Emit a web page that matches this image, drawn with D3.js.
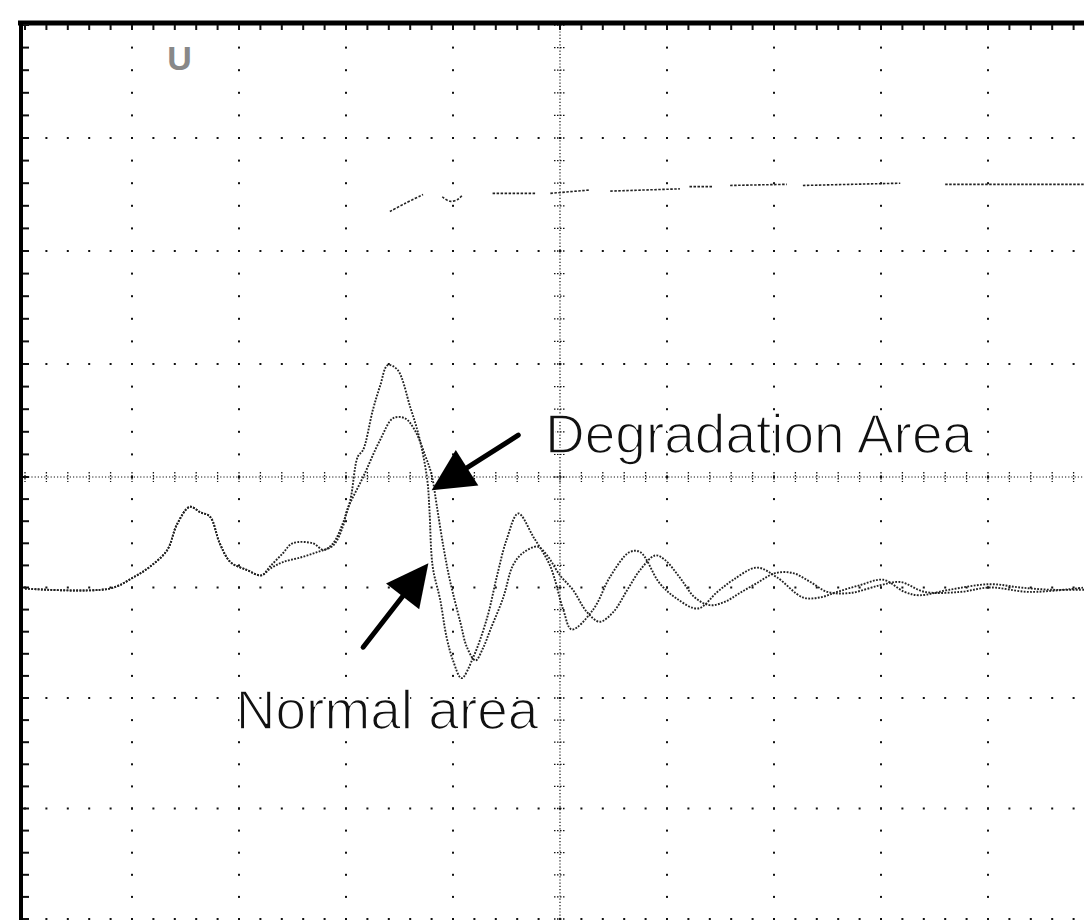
<html>
<head>
<meta charset="utf-8">
<script src="https://cdnjs.cloudflare.com/ajax/libs/d3/7.8.5/d3.min.js"></script>
<style>
  body { margin: 0; background: #fff; }
  svg { display: block; }
</style>
</head>
<body>
<div id="chart"></div>
<script>
// time axis and amplitude are in screen divisions (10 x 8 graticule)
var normalT = [-5.0, -4.21, -3.99, -3.83, -3.67, -3.58, -3.46, -3.36, -3.27, -3.18, -3.08, -2.93, -2.79, -2.71, -2.59, -2.50, -2.31, -2.21, -2.12, -2.03, -1.96,
  -1.89, -1.84, -1.75, -1.68, -1.61, -1.52, -1.40, -1.31, -1.24, -1.22, -1.19, -1.12, -1.06, -1.00, -0.92, -0.81, -0.68, -0.59, -0.50, -0.39,
  -0.25, -0.09, 0.03, 0.11, 0.31, 0.47, 0.65, 0.75, 0.93, 1.09, 1.29, 1.47, 1.62, 1.84, 2.03, 2.27, 2.43, 2.59, 2.80, 3.02, 3.22, 3.36, 3.64, 4.02, 4.30, 4.58, 4.90];
var normalV = [-1.01, -1.01, -0.91, -0.81, -0.66, -0.43, -0.27, -0.32, -0.36, -0.60, -0.77, -0.84, -0.89, -0.81, -0.69, -0.60, -0.60, -0.66, -0.60, -0.42, -0.21,
  0.18, 0.24, 0.59, 0.81, 0.99, 0.95, 0.62, 0.33, -0.03, -0.30, -0.81, -1.11, -1.45, -1.66, -1.82, -1.63, -1.27, -0.90, -0.57, -0.33,
  -0.54, -0.81, -1.20, -1.38, -1.20, -0.90, -0.68, -0.68, -0.96, -1.10, -1.19, -1.04, -0.93, -0.82, -0.91, -1.09, -1.09, -1.04, -0.98, -0.93, -1.04, -1.07, -1.02, -0.97, -1.00, -1.02, -1.02];

var degradedT = [-5.0, -4.21, -3.99, -3.83, -3.67, -3.58, -3.46, -3.36, -3.27, -3.18, -3.08, -2.93, -2.79, -2.71, -2.59, -2.43, -2.27, -2.12, -2.03, -1.99,
  -1.84, -1.68, -1.56, -1.45, -1.36, -1.26, -1.20, -1.15, -1.09, -1.03, -0.93, -0.87, -0.79, -0.72, -0.65, -0.53, -0.44, -0.35, -0.21, -0.12,
  0.00, 0.12, 0.25, 0.37, 0.50, 0.63, 0.75, 0.89, 0.98, 1.12, 1.26, 1.40, 1.54, 1.68, 1.84, 2.01, 2.18, 2.34, 2.50, 2.71, 2.99, 3.18, 3.41, 3.74, 4.02, 4.39, 4.90];
var degradedV = [-1.01, -1.01, -0.91, -0.81, -0.66, -0.43, -0.27, -0.32, -0.36, -0.60, -0.77, -0.84, -0.89, -0.83, -0.77, -0.73, -0.68, -0.62, -0.45, -0.30,
  0.00, 0.33, 0.52, 0.52, 0.42, 0.19, 0.02, -0.27, -0.63, -0.93, -1.32, -1.54, -1.66, -1.55, -1.38, -1.09, -0.80, -0.69, -0.63, -0.71,
  -0.89, -1.02, -1.22, -1.31, -1.22, -1.02, -0.84, -0.71, -0.75, -0.91, -1.09, -1.16, -1.13, -1.05, -0.96, -0.87, -0.87, -0.95, -1.04, -1.05, -0.98, -0.95, -1.04, -1.04, -1.00, -1.04, -1.00];

// second channel, faint and broken (null = gap)
var upperT = [-1.59, -1.45, -1.28, null, -1.10, -1.03, -0.95, -0.91, null, -0.63, -0.23, null, -0.09, 0.28, null, 0.47, 1.12, null,
  1.21, 1.43, null, 1.59, 2.12, null, 2.27, 3.18, null, 3.60, 4.90];
var upperV = [2.35, 2.42, 2.50, null, 2.48, 2.44, 2.46, 2.50, null, 2.51, 2.51, null, 2.51, 2.54, null, 2.53, 2.55, null,
  2.57, 2.57, null, 2.58, 2.59, null, 2.58, 2.60, null, 2.59, 2.59];

var labels = ["Degradation Area", "Normal area"];
var channelLabel = "U";

var W = 1084, H = 920;
var svg = d3.select("#chart").append("svg").attr("width", W).attr("height", H);
svg.append("rect").attr("width", W).attr("height", H).attr("fill", "#fff");

var x = d3.scaleLinear().domain([-5, 5]).range([25, 1095]);
// the scanned screen is a little stretched in the upper half
var y = d3.scaleLinear().domain([-4, 0, 4]).range([919, 477, 25]);

var minorX = d3.range(-25, 26).map(function (d) { return d / 5; });
var minorY = d3.range(-20, 21).map(function (d) { return d / 5; });

var grid = svg.append("g");
// dotted major lines
[-4, -3, -2, -1, 1, 2, 3, 4].forEach(function (t) {
  grid.selectAll(null).data(minorY).enter().append("rect")
    .attr("x", x(t) - 1).attr("y", function (v) { return y(v) - 1; })
    .attr("width", 2).attr("height", 2).attr("fill", "#111");
});
[-4, -3, -2, -1, 1, 2, 3].forEach(function (v) {
  grid.selectAll(null).data(minorX).enter().append("rect")
    .attr("x", function (t) { return x(t) - 1; }).attr("y", y(v) - 1)
    .attr("width", 2).attr("height", 2).attr("fill", "#111");
});

// centre axes: fine dots plus tick marks
grid.append("line").attr("x1", x(-5)).attr("x2", x(5)).attr("y1", y(0)).attr("y2", y(0))
  .attr("stroke", "#111").attr("stroke-width", 1.2).attr("stroke-dasharray", "1.2,2");
grid.append("line").attr("x1", x(0)).attr("x2", x(0)).attr("y1", y(4)).attr("y2", y(-4))
  .attr("stroke", "#111").attr("stroke-width", 1.2).attr("stroke-dasharray", "1.2,2");
grid.selectAll(null).data(minorX).enter().append("line")
  .attr("x1", function (t) { return x(t); }).attr("x2", function (t) { return x(t); })
  .attr("y1", y(0) - 5).attr("y2", y(0) + 5)
  .attr("stroke", "#111").attr("stroke-width", 1.3).attr("stroke-dasharray", "1.5,1.5");
grid.selectAll(null).data(minorY).enter().append("line")
  .attr("x1", x(0) - 6).attr("x2", x(0) + 6)
  .attr("y1", function (v) { return y(v); }).attr("y2", function (v) { return y(v); })
  .attr("stroke", "#111").attr("stroke-width", 1.3).attr("stroke-dasharray", "1.5,1.5");

// screen frame (top and left edge) with ticks
grid.append("line").attr("x1", x(-5) - 7).attr("x2", W).attr("y1", y(4) - 2).attr("y2", y(4) - 2)
  .attr("stroke", "#000").attr("stroke-width", 5);
grid.append("line").attr("x1", x(-5) - 4).attr("x2", x(-5) - 4).attr("y1", y(4) - 4).attr("y2", H)
  .attr("stroke", "#000").attr("stroke-width", 4);
grid.selectAll(null).data(minorX).enter().append("line")
  .attr("x1", function (t) { return x(t); }).attr("x2", function (t) { return x(t); })
  .attr("y1", y(4)).attr("y2", y(4) + 5)
  .attr("stroke", "#111").attr("stroke-width", 2);
grid.selectAll(null).data(minorY).enter().append("line")
  .attr("x1", x(-5) - 2).attr("x2", x(-5) + 4)
  .attr("y1", function (v) { return y(v); }).attr("y2", function (v) { return y(v); })
  .attr("stroke", "#111").attr("stroke-width", 2);

// traces
var line = d3.line()
  .defined(function (d) { return d[0] !== null; })
  .x(function (d) { return x(d[0]); })
  .y(function (d) { return y(d[1]); })
  .curve(d3.curveCatmullRom.alpha(0.5));

function zip(a, b) { return a.map(function (d, i) { return [d, b[i]]; }); }

svg.append("path").datum(zip(upperT, upperV)).attr("d", line)
  .attr("fill", "none").attr("stroke", "#222").attr("stroke-width", 1.6).attr("stroke-dasharray", "2.5,1.5");
svg.append("path").datum(zip(normalT, normalV)).attr("d", line)
  .attr("fill", "none").attr("stroke", "#222").attr("stroke-width", 1.9).attr("stroke-dasharray", "1.8,1.4");
svg.append("path").datum(zip(degradedT, degradedV)).attr("d", line)
  .attr("fill", "none").attr("stroke", "#222").attr("stroke-width", 1.9).attr("stroke-dasharray", "1.8,1.4");

// channel marker
svg.append("text").attr("x", x(-3.67)).attr("y", y(3.6))
  .attr("font-family", "Liberation Sans, Arial, sans-serif").attr("font-size", 34).attr("font-weight", "bold")
  .attr("fill", "#888").text(channelLabel);

// annotations: arrows (tail -> tip in divisions) and labels
var arrows = [
  { tail: [-0.39, 0.37], tip: [-1.20, -0.12] },
  { tail: [-1.84, -1.54], tip: [-1.23, -0.78] }
];
arrows.forEach(function (a) {
  var x0 = x(a.tail[0]), y0 = y(a.tail[1]), x1 = x(a.tip[0]), y1 = y(a.tip[1]);
  var dx = x1 - x0, dy = y1 - y0, len = Math.sqrt(dx * dx + dy * dy);
  var ux = dx / len, uy = dy / len, L = 42, hw = 21;
  var bx = x1 - ux * L, by = y1 - uy * L;
  svg.append("line").attr("x1", x0).attr("y1", y0).attr("x2", bx + ux * 4).attr("y2", by + uy * 4)
    .attr("stroke", "#000").attr("stroke-width", 5).attr("stroke-linecap", "round");
  svg.append("path")
    .attr("d", "M" + x1 + "," + y1 + "L" + (bx - uy * hw) + "," + (by + ux * hw) + "L" + (bx + uy * hw) + "," + (by - ux * hw) + "Z")
    .attr("fill", "#000");
});

// labels: white outline thins the glyphs to match the light print
var labelPos = [[-0.14, 0.21], [-3.03, -2.28]];
svg.selectAll("text.lbl").data(labels).enter().append("text").attr("class", "lbl")
  .attr("x", function (d, i) { return x(labelPos[i][0]); })
  .attr("y", function (d, i) { return y(labelPos[i][1]); })
  .attr("font-family", "Liberation Sans, Arial, sans-serif").attr("font-size", 55)
  .attr("fill", "#111").attr("stroke", "#fff").attr("stroke-width", 1.6)
  .text(function (d) { return d; });
</script>
</body>
</html>
